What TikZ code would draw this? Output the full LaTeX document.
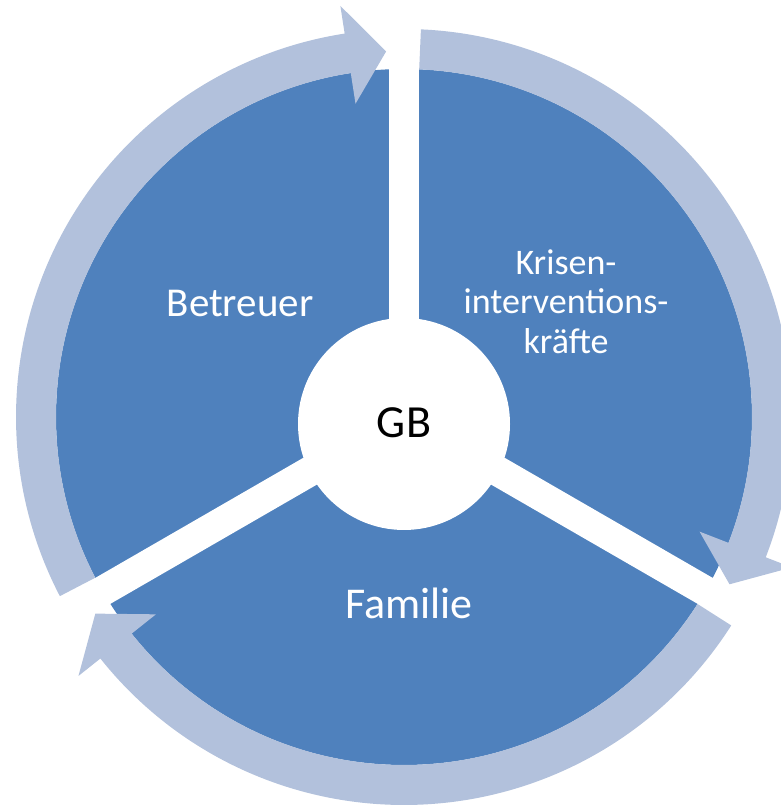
\documentclass[tikz,border=0pt]{standalone}
\usepackage{fontspec}
\setmainfont{Carlito}
\definecolor{pieblue}{RGB}{79,129,189}
\definecolor{ringblue}{RGB}{178,193,220}
\begin{document}
\begin{tikzpicture}[x=1pt,y=1pt,
  spoke/.style={draw=white,line width=30pt},
  ringarrow/.style={fill=ringblue,draw=none},
  lbl/.style={text=white,align=center,inner sep=0pt}]
\useasboundingbox (0,0) rectangle (780,805);
\coordinate (C) at (404,388);
% pie
\fill[pieblue] (C) circle[radius=348pt];
\foreach \a in {90,210,330} \draw[spoke] (C) -- ++(\a:425pt);
% cycle arrows
\begin{scope}[shift={(C)}]
\foreach \t/\p in {207.5/92.8, 87.5/-27.2, -32.5/-147.5}{
  \pgfmathsetmacro\b{\p+6}
  \fill[ringarrow] (\t:388pt) arc[start angle=\t, end angle=\b, radius=388pt]
     -- (\b:416pt) -- (\p:366pt) -- (\b:317pt) -- (\b:348pt)
     arc[start angle=\b, end angle=\t, radius=348pt] -- cycle;
}
\end{scope}
% centre
\node[circle,fill=white,minimum size=212pt,inner sep=0pt] (hub) at (404,381) {};
\node[anchor=base,inner sep=0pt,font=\fontsize{46}{55}\selectfont] (gb) at (404,367) {GB};
\node[lbl,anchor=base,font=\fontsize{41}{48}\selectfont] (betreuer) at (240,488) {Betreuer};
\node[lbl,font=\fontsize{36}{39.5}\selectfont] (krisen) at (566,503.5) {Krisen-\\interventions-\\kräfte};
\node[lbl,anchor=base,font=\fontsize{44}{52}\selectfont] (familie) at (409,186) {Familie};
\end{tikzpicture}
\end{document}
